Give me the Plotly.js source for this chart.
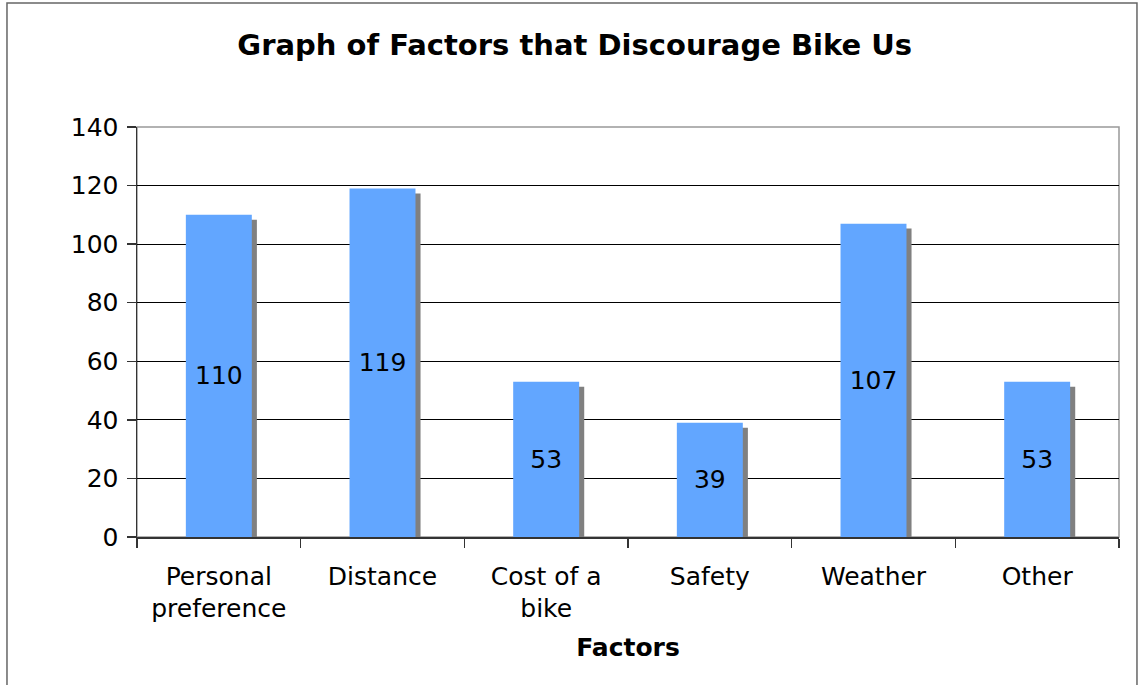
<!DOCTYPE html>
<html>
<head>
<meta charset="utf-8">
<script src="https://cdn.plot.ly/plotly-3.0.1.min.js"></script>
<style>
html,body{margin:0;padding:0;background:#fff;}
#chart{width:1138px;height:685px;}
</style>
</head>
<body>
<div id="chart"></div>
<script>
const categories = ["Personal<br>preference", "Distance", "Cost of a<br>bike", "Safety", "Weather", "Other"];
const values = [110, 119, 53, 39, 107, 53];
const yTicks = [0, 20, 40, 60, 80, 100, 120, 140];

const FONT = "DejaVu Sans, Verdana, sans-serif";
const barW = 0.403;
const shadowShift = 0.031;   // horizontal shadow offset (category units)
const shadowDrop = 1.7;      // vertical shadow drop (value units)

const shadow = {
  type: "bar", x: categories, y: values,
  base: values.map(() => -shadowDrop),
  width: barW, offset: -barW / 2 + shadowShift,
  marker: {color: "#808080", line: {width: 0}},
  hoverinfo: "skip", showlegend: false
};
const bars = {
  type: "bar", x: categories, y: values,
  width: barW, offset: -barW / 2,
  marker: {color: "#62a6ff", line: {width: 0}},
  text: values.map(String),
  textposition: "inside", insidetextanchor: "middle",
  textfont: {family: FONT, size: 25, color: "#000"},
  constraintext: "none",
  showlegend: false
};

const layout = {
  width: 1138, height: 685,
  margin: {l: 137, r: 19, t: 127, b: 148},
  paper_bgcolor: "#fff", plot_bgcolor: "#fff",
  barmode: "overlay",
  uniformtext: {mode: false},
  font: {family: FONT, color: "#000", size: 25},
  title: {
    text: "<b>Graph of Factors that Discourage Bike Us</b>",
    font: {family: FONT, size: 29, color: "#000"},
    x: 0.505, xref: "container", xanchor: "center",
    y: 0.934, yref: "container", yanchor: "middle"
  },
  xaxis: {
    type: "category",
    tickson: "boundaries", ticks: "outside", ticklen: 9, tickcolor: "#333", tickwidth: 1.5,
    showline: true, linecolor: "#333", linewidth: 1.5,
    showgrid: false, zeroline: false,
    ticklabelstandoff: 16,
    tickfont: {family: FONT, size: 25, color: "#000"},
    title: {text: "<b>Factors</b>", font: {family: FONT, size: 25, color: "#000"}, standoff: 16}
  },
  yaxis: {
    range: [0, 140], tickvals: yTicks, ticktext: yTicks.map(String),
    ticks: "outside", ticklen: 9, tickcolor: "#333", tickwidth: 1.5,
    showline: true, linecolor: "#333", linewidth: 1.5,
    showgrid: true, gridcolor: "#000", gridwidth: 1,
    zeroline: false,
    ticklabelstandoff: 3,
    tickfont: {family: FONT, size: 25, color: "#000"}
  },
  shapes: [
    {type: "rect", xref: "paper", yref: "paper", x0: 0, x1: 1, y0: 0, y1: 1,
     line: {color: "#999", width: 1.5}, layer: "below"},
    {type: "rect", xref: "paper", yref: "paper", x0: -0.1324, x1: 1.0183, y0: -0.40, y1: 1.3024,
     line: {color: "#666", width: 1.5}, fillcolor: "rgba(0,0,0,0)", layer: "below"}
  ]
};

Plotly.newPlot("chart", [shadow, bars], layout, {staticPlot: true, displayModeBar: false});
</script>
</body>
</html>
